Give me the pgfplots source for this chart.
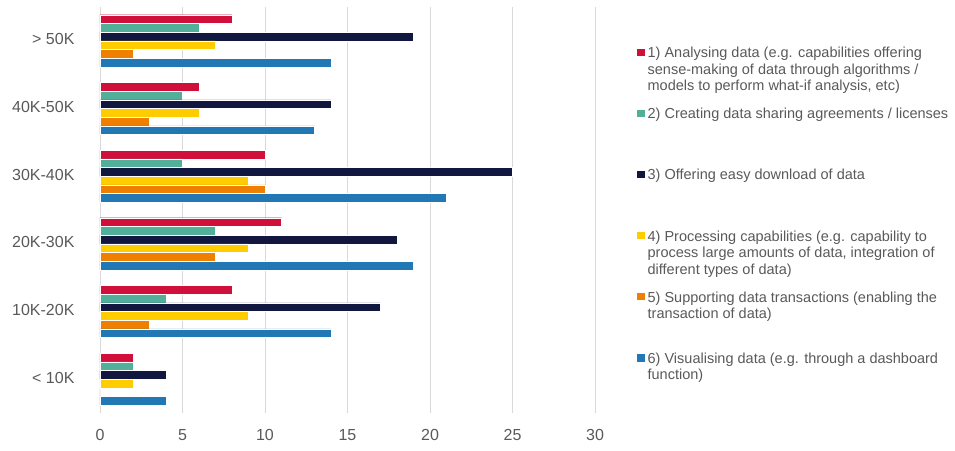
\documentclass[border=0pt]{standalone}
\usepackage{pgfplots}
\pgfplotsset{compat=1.18}
\usepackage{fontspec}
\setmainfont{Liberation Sans}
\definecolor{cRed}{HTML}{D0103A}
\definecolor{cTeal}{HTML}{52B09A}
\definecolor{cNavy}{HTML}{12173F}
\definecolor{cYellow}{HTML}{FFCC00}
\definecolor{cOrange}{HTML}{EF7F00}
\definecolor{cBlue}{HTML}{2178B5}
\definecolor{txt}{HTML}{595959}
\definecolor{gridc}{HTML}{D9D9D9}
\newcommand{\lent}[1]{\fontsize{14.5}{16.5}\selectfont\color{txt}\begin{tabular}[t]{@{}l@{}}#1\end{tabular}}
\begin{document}
\begin{tikzpicture}
\path[use as bounding box] (-100pt,-37pt) rectangle (855pt,413pt);
\begin{axis}[
  at={(0,0)}, anchor=south west,
  scale only axis, width=495pt, height=406pt,
  xbar, bar width=8.7pt,
  xmin=0, xmax=30, ymin=-0.5, ymax=5.5,
  xtick={0,5,...,30},
  ytick={0,1,2,3,4,5},
  yticklabels={< 10K, 10K-20K, 20K-30K, 30K-40K, 40K-50K, > 50K},
  /pgf/number format/assume math mode=true,
  axis line style={draw=none},
  tick style={draw=none},
  major tick length=0pt,
  xmajorgrids, grid style={gridc, line width=0.9pt},
  tick label style={font=\fontsize{16}{19}\selectfont, text=txt},
  xticklabel style={yshift=-12.5pt},
  yticklabel style={xshift=-22pt, yshift=1.5pt},
  every axis plot/.append style={draw=white, line width=0.3pt,
    legend image code/.code={\path (0pt,-49.4pt) rectangle (1pt,10.7pt);\fill[##1,draw=none] (0pt,1.7pt) rectangle (7.3pt,9pt);}},
  legend style={at={(1,1)}, anchor=north west, xshift=42pt, yshift=-39pt,
    draw=none, fill=none, inner sep=0pt, row sep=0pt, column sep=3pt,
    nodes={inner sep=0pt}, cells={anchor=base west}},
]
\addplot[fill=cRed, bar shift=21.75pt] coordinates {(8,5) (6,4) (10,3) (11,2) (8,1) (2,0)};
\addlegendentry{\lent{1) Analysing data (e.g. capabilities offering\\sense-making of data through algorithms /\\models to perform what-if analysis, etc)}}
\addplot[fill=cTeal, bar shift=13.05pt] coordinates {(6,5) (5,4) (5,3) (7,2) (4,1) (2,0)};
\addlegendentry{\lent{2) Creating data sharing agreements / licenses}}
\addplot[fill=cNavy, bar shift=4.35pt] coordinates {(19,5) (14,4) (25,3) (18,2) (17,1) (4,0)};
\addlegendentry{\lent{3) Offering easy download of data}}
\addplot[fill=cYellow, bar shift=-4.35pt] coordinates {(7,5) (6,4) (9,3) (9,2) (9,1) (2,0)};
\addlegendentry{\lent{4) Processing capabilities (e.g. capability to\\process large amounts of data, integration of\\different types of data)}}
\addplot[fill=cOrange, bar shift=-13.05pt] coordinates {(2,5) (3,4) (10,3) (7,2) (3,1) (0,0)};
\addlegendentry{\lent{5) Supporting data transactions (enabling the\\transaction of data)}}
\addplot[fill=cBlue, bar shift=-21.75pt] coordinates {(14,5) (13,4) (21,3) (19,2) (14,1) (4,0)};
\addlegendentry{\lent{6) Visualising data (e.g. through a dashboard\\function)}}
\end{axis}
\end{tikzpicture}
\end{document}
